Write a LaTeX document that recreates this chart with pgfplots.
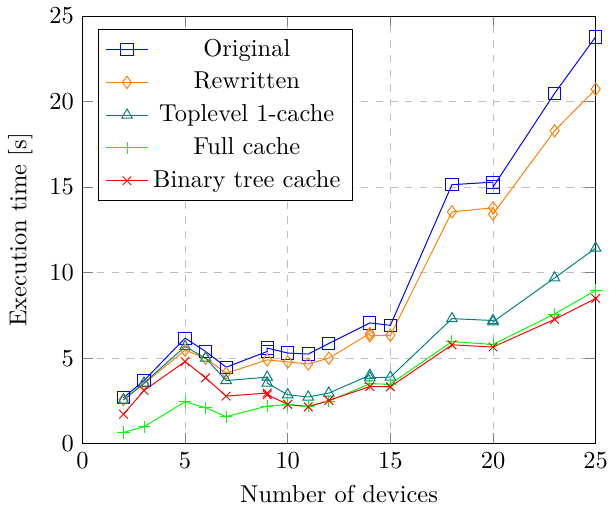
\documentclass[border=0pt]{standalone}
\usepackage{pgfplots}
\pgfplotsset{compat=1.18}
\begin{document}
\begin{tikzpicture}
\begin{axis}[
  scale only axis,
  width=210pt, height=175pt,
  xmin=0, xmax=25, ymin=0, ymax=25,
  xtick={0,5,10,15,20,25}, ytick={0,5,10,15,20,25},
  grid=major,
  major grid style={dashed, gray!50},
  xlabel={Number of devices},
  ylabel={Execution time [s]},
  legend pos=north west,
  legend cell align=center,
  legend style={row sep=1pt},
]
\addplot[blue, mark=square, mark size=2.5pt] coordinates {
(2,2.69) (3,3.69) (5,6.17) (6,5.39) (7,4.47) (9,5.39) (9,5.59) (10,5.3) (11,5.24) (12,5.86) (14,7.06) (15,6.92) (18,15.14) (20,15.29) (20,15.0) (23,20.48) (25,23.78)
};
\addlegendentry{Original}
\addplot[orange, mark=diamond, mark size=2.5pt] coordinates {
(2,2.57) (3,3.5) (5,5.47) (6,5.0) (7,4.12) (9,4.9) (10,4.78) (11,4.66) (12,5.0) (14,6.44) (14,6.3) (15,6.34) (18,13.55) (20,13.79) (20,13.42) (23,18.29) (25,20.72)
};
\addlegendentry{Rewritten}
\addplot[teal, mark=triangle, mark size=2.5pt] coordinates {
(2,2.55) (3,3.55) (5,5.68) (6,5.0) (7,3.69) (9,3.89) (9,3.54) (10,2.86) (11,2.73) (12,2.96) (14,4.0) (14,3.85) (15,3.89) (18,7.31) (20,7.2) (20,7.12) (23,9.69) (25,11.43)
};
\addlegendentry{Toplevel 1-cache}
\addplot[green, mark=+, mark size=2.5pt] coordinates {
(2,0.66) (3,0.99) (5,2.45) (6,2.1) (7,1.58) (9,2.2) (10,2.28) (11,2.19) (12,2.49) (14,3.5) (15,3.48) (18,5.97) (20,5.8) (23,7.58) (25,8.96)
};
\addlegendentry{Full cache}
\addplot[red, mark=x, mark size=2.5pt] coordinates {
(2,1.72) (3,3.11) (5,4.8) (6,3.85) (7,2.78) (9,2.96) (9,2.86) (10,2.3) (11,2.15) (12,2.53) (14,3.34) (15,3.33) (18,5.78) (20,5.65) (23,7.27) (25,8.49)
};
\addlegendentry{Binary tree cache}
\end{axis}
\end{tikzpicture}
\end{document}
